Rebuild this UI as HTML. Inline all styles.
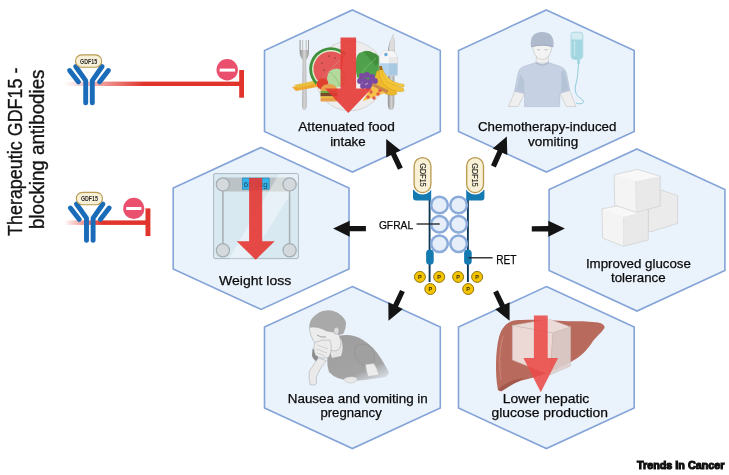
<!DOCTYPE html><html><head><meta charset="utf-8"><style>html,body{margin:0;padding:0;background:#fff;width:729px;height:475px;overflow:hidden}svg{display:block;will-change:transform}text{font-family:"Liberation Sans",sans-serif}</style></head><body>
<svg width="729" height="475" viewBox="0 0 729 475">
<defs><linearGradient id="fadeL" x1="0" x2="1" y1="0" y2="0"><stop offset="0" stop-color="#e0342c" stop-opacity="0"/><stop offset="0.2" stop-color="#e0342c" stop-opacity="0.45"/><stop offset="0.45" stop-color="#e0342c" stop-opacity="1"/><stop offset="1" stop-color="#e0342c" stop-opacity="1"/></linearGradient><linearGradient id="fadeL2" x1="0" x2="1" y1="0" y2="0"><stop offset="0" stop-color="#e0342c" stop-opacity="0"/><stop offset="0.45" stop-color="#e0342c" stop-opacity="1"/><stop offset="1" stop-color="#e0342c" stop-opacity="1"/></linearGradient></defs>
<polygon points="352.4,10.0 440.3,50.5 440.3,131.5 352.4,172.0 264.5,131.5 264.5,50.5" fill="#eaf2fb" stroke="#84a4d8" stroke-width="1.6"/>
<polygon points="546.4,10.0 634.2,50.5 634.2,131.5 546.4,172.0 458.5,131.5 458.5,50.5" fill="#eaf2fb" stroke="#84a4d8" stroke-width="1.6"/>
<polygon points="261.1,147.4 349.0,187.9 349.0,268.9 261.1,309.4 173.2,268.9 173.2,187.9" fill="#eaf2fb" stroke="#84a4d8" stroke-width="1.6"/>
<polygon points="637.0,149.0 724.9,189.5 724.9,270.5 637.0,311.0 549.1,270.5 549.1,189.5" fill="#eaf2fb" stroke="#84a4d8" stroke-width="1.6"/>
<polygon points="352.4,286.6 440.3,327.1 440.3,408.1 352.4,448.6 264.5,408.1 264.5,327.1" fill="#eaf2fb" stroke="#84a4d8" stroke-width="1.6"/>
<polygon points="546.4,286.6 634.2,327.1 634.2,408.1 546.4,448.6 458.5,408.1 458.5,327.1" fill="#eaf2fb" stroke="#84a4d8" stroke-width="1.6"/>
<polygon points="402.8,167.5 395.8,152.8 400.6,150.5 386.2,139.0 386.2,157.4 391.0,155.1 398.0,169.7" fill="#141414"/>
<polygon points="495.8,167.4 502.4,152.8 507.3,155.0 506.8,136.6 492.7,148.4 497.6,150.6 491.0,165.2" fill="#141414"/>
<polygon points="365.9,226.1 349.7,226.0 349.7,220.7 333.1,228.6 349.7,236.7 349.7,231.3 365.9,231.3" fill="#141414"/>
<polygon points="531.8,231.4 548.3,231.4 548.3,236.7 564.9,228.6 548.3,220.7 548.3,226.1 531.8,226.2" fill="#141414"/>
<polygon points="400.1,289.9 393.2,304.5 388.3,302.3 388.5,320.7 402.8,309.1 398.0,306.8 404.8,292.1" fill="#141414"/>
<polygon points="493.2,292.5 500.0,306.9 495.2,309.2 509.6,320.7 509.6,302.3 504.8,304.6 497.9,290.2" fill="#141414"/>
<g id="receptor">
<line x1="429.6" y1="197" x2="429.6" y2="282" stroke="#0d3858" stroke-width="1.9"/>
<line x1="467.9" y1="197" x2="467.9" y2="282" stroke="#0d3858" stroke-width="1.9"/>
<path d="M413.0,189.8 H431.2 V200.6 H416 Q413,200.6 413,197.6 Z" fill="#1579b2"/>
<path d="M466.2,189.8 H484.4 V197.6 Q484.4,200.6 481.4,200.6 H466.2 Z" fill="#1579b2"/>
<rect x="414.1" y="157.6" width="16.8" height="35" rx="8.4" fill="#fff" stroke="#fff" stroke-width="4"/>
<rect x="466.7" y="157.6" width="16.8" height="35" rx="8.4" fill="#fff" stroke="#fff" stroke-width="4"/>
<rect x="414.1" y="157.6" width="16.8" height="35" rx="8.4" fill="#f8f1d6" stroke="#b8984c" stroke-width="1.3"/>
<rect x="466.7" y="157.6" width="16.8" height="35" rx="8.4" fill="#f8f1d6" stroke="#b8984c" stroke-width="1.3"/>
<text transform="translate(419.6,175) rotate(90)" font-size="8.4" text-anchor="middle" fill="#222" stroke="#222" stroke-width="0.1" textLength="23.5" lengthAdjust="spacingAndGlyphs">GDF15</text>
<text transform="translate(472.4,175) rotate(90)" font-size="8.4" text-anchor="middle" fill="#222" stroke="#222" stroke-width="0.1" textLength="23.5" lengthAdjust="spacingAndGlyphs">GDF15</text>
<circle cx="439.5" cy="205.0" r="8.3" fill="#e5eef9" stroke="#8aabd9" stroke-width="2.5"/>
<circle cx="439.5" cy="224.2" r="8.3" fill="#e5eef9" stroke="#8aabd9" stroke-width="2.5"/>
<circle cx="439.5" cy="243.8" r="8.3" fill="#e5eef9" stroke="#8aabd9" stroke-width="2.5"/>
<circle cx="458.6" cy="205.0" r="8.3" fill="#e5eef9" stroke="#8aabd9" stroke-width="2.5"/>
<circle cx="458.6" cy="224.2" r="8.3" fill="#e5eef9" stroke="#8aabd9" stroke-width="2.5"/>
<circle cx="458.6" cy="243.8" r="8.3" fill="#e5eef9" stroke="#8aabd9" stroke-width="2.5"/>
<rect x="426.1" y="249.5" width="7.6" height="15.2" rx="3.8" fill="#1579b2"/>
<rect x="464.1" y="249.5" width="7.6" height="15.2" rx="3.8" fill="#1579b2"/>
<line x1="416.6" y1="224" x2="439.7" y2="224" stroke="#1a1a1a" stroke-width="1.3"/>
<line x1="468.6" y1="257.8" x2="492.6" y2="257.8" stroke="#1a1a1a" stroke-width="1.3"/>
<circle cx="419.9" cy="276.9" r="5.5" fill="#f3c400" stroke="#8a6a00" stroke-width="0.9"/>
<text x="419.9" y="278.9" font-size="5.5" font-weight="bold" text-anchor="middle" fill="#3a2a00">P</text>
<circle cx="439.2" cy="276.9" r="5.5" fill="#f3c400" stroke="#8a6a00" stroke-width="0.9"/>
<text x="439.2" y="278.9" font-size="5.5" font-weight="bold" text-anchor="middle" fill="#3a2a00">P</text>
<circle cx="430.3" cy="289.0" r="5.5" fill="#f3c400" stroke="#8a6a00" stroke-width="0.9"/>
<text x="430.3" y="291.0" font-size="5.5" font-weight="bold" text-anchor="middle" fill="#3a2a00">P</text>
<circle cx="458.1" cy="276.9" r="5.5" fill="#f3c400" stroke="#8a6a00" stroke-width="0.9"/>
<text x="458.1" y="278.9" font-size="5.5" font-weight="bold" text-anchor="middle" fill="#3a2a00">P</text>
<circle cx="477.1" cy="276.9" r="5.5" fill="#f3c400" stroke="#8a6a00" stroke-width="0.9"/>
<text x="477.1" y="278.9" font-size="5.5" font-weight="bold" text-anchor="middle" fill="#3a2a00">P</text>
<circle cx="468.2" cy="289.0" r="5.5" fill="#f3c400" stroke="#8a6a00" stroke-width="0.9"/>
<text x="468.2" y="291.0" font-size="5.5" font-weight="bold" text-anchor="middle" fill="#3a2a00">P</text>
</g>
<rect x="64" y="81.6" width="178" height="4.4" fill="url(#fadeL)"/>
<g transform="translate(74.9,54.3)"><path d="M0.8,12.2 L10.8,26.3 L10.8,48.6" fill="none" stroke="#1b6cb8" stroke-width="4.9" stroke-linecap="round" stroke-linejoin="round"/><path d="M27.2,12.2 L17.4,26.3 L17.4,48.6" fill="none" stroke="#1b6cb8" stroke-width="4.9" stroke-linecap="round" stroke-linejoin="round"/><path d="M-5.3,16.2 L3.6,27.6" fill="none" stroke="#1b6cb8" stroke-width="4.9" stroke-linecap="round"/><path d="M33.5,16.2 L24.6,27.6" fill="none" stroke="#1b6cb8" stroke-width="4.9" stroke-linecap="round"/><rect x="0.6" y="0.6" width="26.2" height="12.4" rx="6.2" fill="#f7f0d6" stroke="#b89a50" stroke-width="1.1"/><text x="13.7" y="9.4" font-size="6.6" font-weight="bold" text-anchor="middle" fill="#2a2a2a" textLength="17" lengthAdjust="spacingAndGlyphs">GDF15</text></g>
<rect x="118" y="81.6" width="124" height="4.4" fill="#e0342c" opacity="0"/>
<rect x="239.2" y="70" width="4.8" height="27.7" fill="#e0342c"/>
<circle cx="227.2" cy="69.8" r="10.7" fill="#ea4f6d"/>
<rect x="219.6" y="68.6" width="15.5" height="3" fill="#fff"/>
<rect x="64" y="220.4" width="84" height="4.5" fill="url(#fadeL2)"/>
<g transform="translate(75.7,191.8)"><path d="M0.8,12.2 L10.8,26.3 L10.8,48.6" fill="none" stroke="#1b6cb8" stroke-width="4.9" stroke-linecap="round" stroke-linejoin="round"/><path d="M27.2,12.2 L17.4,26.3 L17.4,48.6" fill="none" stroke="#1b6cb8" stroke-width="4.9" stroke-linecap="round" stroke-linejoin="round"/><path d="M-5.3,16.2 L3.6,27.6" fill="none" stroke="#1b6cb8" stroke-width="4.9" stroke-linecap="round"/><path d="M33.5,16.2 L24.6,27.6" fill="none" stroke="#1b6cb8" stroke-width="4.9" stroke-linecap="round"/><rect x="0.6" y="0.6" width="26.2" height="12.4" rx="6.2" fill="#f7f0d6" stroke="#b89a50" stroke-width="1.1"/><text x="13.7" y="9.4" font-size="6.6" font-weight="bold" text-anchor="middle" fill="#2a2a2a" textLength="17" lengthAdjust="spacingAndGlyphs">GDF15</text></g>
<rect x="145.5" y="208.4" width="4.9" height="27.7" fill="#e0342c"/>
<circle cx="133.8" cy="208.4" r="10.6" fill="#ea4f6d"/>
<rect x="126.2" y="207" width="15.2" height="3" fill="#fff"/>
<g id="food">
<defs><linearGradient id="steel" x1="0" x2="1" y1="0" y2="0"><stop offset="0" stop-color="#8e8e8e"/><stop offset="0.5" stop-color="#d4d4d4"/><stop offset="1" stop-color="#9a9a9a"/></linearGradient></defs>
<circle cx="350" cy="75.8" r="35" fill="#ededed" stroke="#d6d6d6" stroke-width="1"/>
<path d="M299.6,40 L299.6,51 Q299.8,57 302.6,60 L302,104 Q302,110 304.3,110 Q306.8,110 306.8,104 L306.2,60 Q309,57 309,51 L309,40 L308,40 L308,50 L306.6,50 L306.6,40 L305.6,40 L305.6,50 L303.2,50 L303.2,40 L302.2,40 L302.2,50 L300.6,50 L300.6,40 Z" fill="url(#steel)"/>
<path d="M393.5,33.5 Q395.5,42 394.6,52 L394.3,104 Q394,110 391,110 Q388,110 387.8,104 L387.8,52 Q388.5,42 393.5,33.5 Z" fill="url(#steel)"/>
<path d="M393.5,33.5 Q395.5,42 394.6,50 L389,50 Q389.5,42 393.5,33.5 Z" fill="#dcdcdc"/>
<path d="M292,87 L320,82 L322,86 L296,91 Z" fill="#f0a830"/>
<path d="M294,85 L318,80 L319,83 L298,88 Z" fill="#e8c040"/>
<path d="M315.6,84.4 A21.5,21.5 0 0 1 346.4,53.6 Z" fill="#3f8f3c"/>
<path d="M317.6,82.4 A18.7,18.7 0 0 1 344.4,55.6 Z" fill="#d9eec9"/>
<path d="M318.6,81.4 A17.3,17.3 0 0 1 343.4,56.6 Z" fill="#e4585a"/>
<circle cx="329.0" cy="56.0" r="0.6" fill="#3a1a1a"/>
<circle cx="335.0" cy="58.0" r="0.6" fill="#3a1a1a"/>
<circle cx="322.0" cy="63.0" r="0.6" fill="#3a1a1a"/>
<circle cx="324.0" cy="70.0" r="0.6" fill="#3a1a1a"/>
<circle cx="330.0" cy="75.0" r="0.6" fill="#3a1a1a"/>
<path d="M318.6,81.4 L343.4,56.6 L342,72 L332,84 Z" fill="#e4585a"/>
<circle cx="336.5" cy="78" r="9.5" fill="#b4d99c"/>
<path d="M330,72 Q336,76 340,86" stroke="#8cc070" stroke-width="0.8" fill="none"/>
<path d="M356,62 Q356,53 362,52 Q368,49 373,53 Q379,54 380,60 Q382,66 379,72 Q376,79 368,81 Q360,82 357,77 Q355,70 356,62 Z" fill="#4fa14b"/>
<path d="M364,52 Q372,50 378,56 Q381,62 376,66 Q370,60 364,52 Z" fill="#3e8a3a" opacity="0.8"/>
<path d="M358,78 Q364,68 376,58" stroke="#8cc47e" stroke-width="0.6" fill="none"/>
<path d="M379.2,57 L383,50.7 L393.8,50.7 L397.5,57 L397.5,75.3 L379.2,75.3 Z" fill="#f5f5f5" stroke="#d6d6d6" stroke-width="0.5"/>
<rect x="379.2" y="63.3" width="18.3" height="12" fill="#b3d3ee"/>
<path d="M389,57 L397.5,57 L397.5,75.3 L389,75.3 Z" fill="#000" opacity="0.05"/>
<circle cx="385.9" cy="54.5" r="1.7" fill="#6aa8da"/>
<path d="M380,68 Q377,80 388,88 Q396,93 404,91 L403,88 Q392,86 386,78 Q382,72 382,68 Z" fill="#f3c332" stroke="#d5a11e" stroke-width="0.5"/>
<path d="M377,71 Q372,84 382,92 Q390,97 397,94 L396,91 Q386,89 381,80 Q379,75 379,71 Z" fill="#eeb92a" stroke="#d5a11e" stroke-width="0.5"/>
<path d="M382,68 Q386,78 394,82 Q400,84 404,84.5 L404,87 Q394,86 388,82 Q382,76 381,68 Z" fill="#f6ca3c" stroke="#d5a11e" stroke-width="0.5"/>
<path d="M379,66 L382,66 L382.5,70 L379.5,70 Z" fill="#9a7020"/>
<circle cx="362.0" cy="76.0" r="2.9" fill="#7a4aa2"/>
<circle cx="367.0" cy="75.0" r="2.9" fill="#7a4aa2"/>
<circle cx="372.0" cy="77.0" r="2.9" fill="#7a4aa2"/>
<circle cx="360.0" cy="81.0" r="2.9" fill="#7a4aa2"/>
<circle cx="365.0" cy="81.0" r="2.9" fill="#7a4aa2"/>
<circle cx="370.0" cy="82.0" r="2.9" fill="#7a4aa2"/>
<circle cx="375.0" cy="81.0" r="2.9" fill="#7a4aa2"/>
<circle cx="363.0" cy="86.0" r="2.9" fill="#7a4aa2"/>
<circle cx="368.0" cy="87.0" r="2.9" fill="#7a4aa2"/>
<circle cx="372.0" cy="86.0" r="2.9" fill="#7a4aa2"/>
<path d="M362.7,101.3 L373,84.5 L387.5,92 Z" fill="#f6c24a"/>
<path d="M372.9,82.9 L388.7,90.5 L387,93.5 L371.5,85.5 Z" fill="#c9884a"/>
<circle cx="371.0" cy="92.0" r="1.7" fill="#e0584a"/>
<circle cx="378.0" cy="94.0" r="1.7" fill="#e0584a"/>
<circle cx="368.0" cy="97.0" r="1.7" fill="#e0584a"/>
<circle cx="374.0" cy="98.0" r="1.7" fill="#e0584a"/>
<circle cx="380.0" cy="90.5" r="1.7" fill="#e0584a"/>
<circle cx="322.5" cy="84" r="5.8" fill="#e0402e"/>
<path d="M320.5,91 Q321,84 329,84 Q337,84 337.5,91 Z" fill="#e9a04c"/>
<rect x="320.5" y="91" width="17" height="2" fill="#6ab040"/>
<rect x="320.5" y="93" width="17" height="3.5" fill="#7a4a2a"/>
<rect x="320.5" y="96.5" width="17" height="1.5" fill="#f0c030"/>
<rect x="320.5" y="98" width="17" height="3.5" rx="1.2" fill="#e9a04c"/>
<polygon points="340.5,37.4 356.1,37.4 356.1,88.6 371.6,88.6 348.3,113.0 325.0,88.6 340.5,88.6" fill="#e53935" fill-opacity="0.90"/>
</g>
<g id="chemo">
<path d="M515,91 L508.5,106.5 L518,106.5 L525,93 Z" fill="#efefef" stroke="#b8b8b8" stroke-width="0.5"/>
<path d="M569.5,90 L576,106.5 L566.5,106.5 L559.5,93 Z" fill="#efefef" stroke="#b8b8b8" stroke-width="0.5"/>
<path d="M536.5,55 L548,55 L548.5,63 L536,63 Z" fill="#f0f0f0" stroke="#b8b8b8" stroke-width="0.5"/>
<path d="M536,62.5 Q542,66 548.5,62.5 L560,66.5 Q566,68 567,76 L569.8,90.5 L559.8,93.5 L559.6,106.6 L524.6,106.6 L524.6,93.5 L514.6,91.2 L517.5,76 Q518.5,68 524,66.5 Z" fill="#c6d2e3" stroke="#aebbd0" stroke-width="0.6"/>
<path d="M520,74 Q518,84 516,90 L524.6,93 L524,80 Z" fill="#aebcd2" opacity="0.6"/>
<path d="M564,70 Q567,80 569,90 L561,92 Q562,80 561,72 Z" fill="#aebcd2" opacity="0.7"/>
<path d="M536,62.5 Q542,68 548.5,62.5" stroke="#aab8ce" stroke-width="1.2" fill="none"/>
<path d="M532.8,43 C532,53 537,59.5 542.3,59.5 C547.6,59.5 552.4,53 551.8,43 Z" fill="#f3f3f3" stroke="#b4b4b4" stroke-width="0.5"/>
<path d="M537,49.5 Q538.5,50.5 540,49.5 M544.5,49.5 Q546,50.5 547.5,49.5" stroke="#8a8a8a" stroke-width="0.5" fill="none"/>
<path d="M531,47 C529.5,37 534,32 542.2,32 C550.4,32 554.8,37 553.4,47 Q542.2,43.8 531,47 Z" fill="#afbbcd"/>
<path d="M531.2,46.8 Q542.2,43.6 553.2,46.8" stroke="#9ba8bc" stroke-width="0.8" fill="none"/>
<path d="M571,35 Q571,32.2 574,32.2 L579.8,32.2 Q582.8,32.2 582.8,35 L582.8,56 Q582.8,59 579,59.5 L574.6,59.5 Q571,59 571,56 Z" fill="#d5edf2" stroke="#8cc7d4" stroke-width="0.6"/>
<path d="M571.5,39.5 L582.3,39.5 L582.3,56 Q582.3,58.8 579,59 L574.6,59 Q571.5,58.8 571.5,56 Z" fill="#a2d6e1"/>
<rect x="574" y="41" width="1.2" height="15" fill="#c8e8ef"/>
<rect x="577.2" y="59" width="2.6" height="5" fill="#9fd4df"/>
<path d="M578.5,64 Q578,78 575.5,86 Q574,94 580,98 Q586,101.5 582,103.5 Q579,104.5 576,103" stroke="#7cc4d3" stroke-width="0.8" fill="none"/>
</g>
<g id="scale">
<rect x="213.6" y="173.6" width="84.8" height="85" rx="1.5" fill="#d9e9f2" stroke="#a9b8be" stroke-width="1"/>
<rect x="216" y="177.5" width="80" height="14" rx="7" fill="#bcc3c6"/>
<path d="M279,174 L298,174 L298,182 L250,258.5 L229,258.5 Z" fill="#ffffff" opacity="0.38"/>
<line x1="222.9" y1="190" x2="222.9" y2="244" stroke="#a9b1b5" stroke-width="1.6"/>
<line x1="289.6" y1="190" x2="289.6" y2="244" stroke="#a9b1b5" stroke-width="1.6"/>
<circle cx="222.9" cy="184.4" r="6.6" fill="#d3d9dc" stroke="#a5adb1" stroke-width="1.2"/>
<circle cx="289.6" cy="184.4" r="6.6" fill="#d3d9dc" stroke="#a5adb1" stroke-width="1.2"/>
<circle cx="222.9" cy="250.3" r="6.6" fill="#d3d9dc" stroke="#a5adb1" stroke-width="1.2"/>
<circle cx="289.6" cy="250.3" r="6.6" fill="#d3d9dc" stroke="#a5adb1" stroke-width="1.2"/>
<rect x="242.5" y="178" width="26.7" height="11.2" fill="#35b3ea" stroke="#1a7aa8" stroke-width="0.6"/>
<text x="255.8" y="187" font-size="8" text-anchor="middle" fill="#1a4a66">65.0kg</text>
<polygon points="249.1,178.0 262.2,178.0 262.2,241.2 274.7,241.2 255.7,259.7 236.7,241.2 249.1,241.2" fill="#e53935" fill-opacity="0.92"/>
</g>
<g id="cubes">
<polygon points="648.3,192.0 661.1,190.1 677.6,195.6 677.6,223.4 651.0,231.6 648.3,231.0" fill="#ebebeb" stroke="#cfcfcf" stroke-width="0.7"/>
<polygon points="602.0,208.8 617.2,206.0 648.3,209.7 623.6,217.0" fill="#f8f8f8" />
<polygon points="602.0,208.8 623.6,217.0 623.6,246.3 602.6,238.0" fill="#f4f4f4" />
<polygon points="623.6,217.0 648.3,209.7 648.3,239.9 623.6,246.3" fill="#e9e9e9" />
<polygon points="602.0,208.8 617.2,206.0 648.3,209.7 648.3,239.9 623.6,246.3 602.6,238.0" fill="none" stroke="#cfcfcf" stroke-width="0.7" stroke-linejoin="round"/>
<polygon points="614.1,174.9 637.3,169.4 660.2,176.2 635.5,181.3" fill="#f8f8f8" />
<polygon points="614.1,174.9 635.5,181.3 636.4,212.4 614.8,205.1" fill="#f4f4f4" />
<polygon points="635.5,181.3 660.2,176.2 660.2,206.0 636.4,212.4" fill="#e9e9e9" />
<polygon points="614.1,174.9 637.3,169.4 660.2,176.2 660.2,206.0 636.4,212.4 614.8,205.1" fill="none" stroke="#cfcfcf" stroke-width="0.7" stroke-linejoin="round"/>
<line x1="635.5" y1="181.3" x2="636.4" y2="212.4" stroke="#dcdcdc" stroke-width="0.6"/>
<line x1="623.6" y1="217" x2="623.6" y2="246.3" stroke="#dcdcdc" stroke-width="0.6"/>
</g>
<g id="nausea">
<defs><linearGradient id="bodyfade" x1="0.3" y1="0" x2="0.9" y2="1"><stop offset="0" stop-color="#9e9e9e"/><stop offset="0.7" stop-color="#a4a4a4"/><stop offset="1" stop-color="#c9ced6" stop-opacity="0.5"/></linearGradient></defs>
<path d="M338,336 Q352,333 363,340 Q374,347 380,357 Q386,366 389,373 L386,377 Q368,380 352,381 Q336,380 329,372 Q325,360 330,348 Q333,340 338,336 Z" fill="url(#bodyfade)"/>
<path d="M356,346 Q364,342 371,347 Q376,354 374,362 Q370,366 362,365 Q355,360 354.5,352 Z" fill="#a0a0a0" stroke="#8c8c8c" stroke-width="0.5"/>
<path d="M365.5,364.5 L374,363.5 Q377,368 379,375 L368,376.5 Q366,370 365.5,364.5 Z" fill="#ececec" stroke="#b0b0b0" stroke-width="0.4"/>
<path d="M343.5,379 Q350,375 357,378 Q358,382 352,383 Q346,383.5 343.5,379 Z" fill="#e8e8e8" stroke="#b0b0b0" stroke-width="0.4"/>
<path d="M330,336 Q338,334 341.5,340 Q344,348 341,356 L332,358 Q328,348 330,336 Z" fill="#e4e4e4"/>
<path d="M312.5,349 Q316,348 318,354 L318,362 Q314,361 312,356 Z" fill="#8c8c8c"/>
<path d="M309.3,327.4 Q309.5,320 313.8,316.6 Q319,311 326.3,310.4 Q335,310 340.6,314.9 Q346,319 346,323.8 Q346,329 343.3,333.7 L336,336 Q330,332 326.3,331 Q318,328 309.3,327.4 Z" fill="#a9a9a9"/>
<path d="M309.3,327.4 Q318,326 326.3,331 Q333,332.5 337,332 Q340,336 341,342 Q341,350 335,351 Q325,350 318,346 Q312,341 311,335.5 Q309.5,331 309.3,327.4 Z" fill="#ececec" stroke="#9f9f9f" stroke-width="0.5"/>
<ellipse cx="336.4" cy="330.8" rx="2.6" ry="3.6" fill="#dcdcdc" stroke="#9a9a9a" stroke-width="0.5"/>
<path d="M317,335 Q321,338 326,337" stroke="#6f6f6f" stroke-width="0.6" fill="none"/>
<path d="M318.2,357.9 L326.3,360.6 Q320,368 316.4,376.7 L316.4,383.9 Q313,386 310.2,384.7 Q308.5,378 309.3,371.3 Z" fill="#eaeaea" stroke="#a0a0a0" stroke-width="0.5"/>
<path d="M314.6,342.6 Q322,339 329.9,340 Q333,348 329,357 Q322,360 315.5,355.2 Q312.5,349 314.6,342.6 Z" fill="#ececec" stroke="#a0a0a0" stroke-width="0.5"/>
<path d="M317,345 L328,349 M316,349 L327,353 M317,353 L325,356" stroke="#b2b2b2" stroke-width="0.5" fill="none"/>
</g>
<g id="liver">
<path d="M497.9,389.5 C495,375 495.5,350 499,337 C501,329 506,322 514,320.4 C530,319 550,320 568,321.3 C580,321 594,321.5 600,323 C604,324.5 605.5,327 604.1,328.5 C602,332 597,336 593,341 C588,349 582,356 571.2,361.7 C558,369 545,375 525.7,379.4 C514,382 506,388 502,391 C500,391.5 498.5,391 497.9,389.5 Z" fill="#b86a5d"/>
<path d="M503,336 C499,350 499,366 501,380" stroke="#cf8a7c" stroke-width="1.3" fill="none" opacity="0.7"/>
<path d="M497.9,389.5 C505,383 514,379 525,378 C514,383 507,388 502,391 Z" fill="#8e4a40" opacity="0.55"/>
<g stroke="#cbbcb8" stroke-width="0.5">
<polygon points="512.4,325.5 549,319 570.6,327 553,333" fill="#f1e8e6" opacity="0.9"/>
<polygon points="512.4,325.5 553,333 550,375 512.4,360" fill="#f2e6e4" opacity="0.9"/>
<polygon points="553,333 570.6,327 570.6,366 550,375" fill="#ddd0ce" opacity="0.9"/>
</g>
<polygon points="533.9,315.4 547.7,315.4 547.7,358.1 558.1,358.1 540.8,392.2 523.4,358.1 533.9,358.1" fill="#ea4a48" fill-opacity="0.88"/>
</g>
<text x="346.5" y="130.9" font-size="13.30" text-anchor="middle" fill="#0a0a0a" stroke="#0a0a0a" stroke-width="0.25" textLength="96.5" lengthAdjust="spacingAndGlyphs">Attenuated food</text>
<text x="347.9" y="145.5" font-size="13.30" text-anchor="middle" fill="#0a0a0a" stroke="#0a0a0a" stroke-width="0.25" textLength="35.5" lengthAdjust="spacingAndGlyphs">intake</text>
<text x="547.2" y="131.3" font-size="13.30" text-anchor="middle" fill="#0a0a0a" stroke="#0a0a0a" stroke-width="0.25" textLength="138.5" lengthAdjust="spacingAndGlyphs">Chemotherapy-induced</text>
<text x="553.1" y="146.3" font-size="13.30" text-anchor="middle" fill="#0a0a0a" stroke="#0a0a0a" stroke-width="0.25" textLength="50.3" lengthAdjust="spacingAndGlyphs">vomiting</text>
<text x="255.2" y="285.0" font-size="13.30" text-anchor="middle" fill="#0a0a0a" stroke="#0a0a0a" stroke-width="0.25" textLength="72.2" lengthAdjust="spacingAndGlyphs">Weight loss</text>
<text x="638.4" y="267.7" font-size="13.30" text-anchor="middle" fill="#0a0a0a" stroke="#0a0a0a" stroke-width="0.25" textLength="105.0" lengthAdjust="spacingAndGlyphs">Improved glucose</text>
<text x="638.3" y="282.4" font-size="13.30" text-anchor="middle" fill="#0a0a0a" stroke="#0a0a0a" stroke-width="0.25" textLength="54.7" lengthAdjust="spacingAndGlyphs">tolerance</text>
<text x="357.8" y="403.3" font-size="13.30" text-anchor="middle" fill="#0a0a0a" stroke="#0a0a0a" stroke-width="0.25" textLength="140.0" lengthAdjust="spacingAndGlyphs">Nausea and vomiting in</text>
<text x="351.1" y="417.3" font-size="13.30" text-anchor="middle" fill="#0a0a0a" stroke="#0a0a0a" stroke-width="0.25" textLength="61.3" lengthAdjust="spacingAndGlyphs">pregnancy</text>
<text x="546.0" y="403.4" font-size="13.30" text-anchor="middle" fill="#0a0a0a" stroke="#0a0a0a" stroke-width="0.25" textLength="86.7" lengthAdjust="spacingAndGlyphs">Lower hepatic</text>
<text x="549.8" y="417.4" font-size="13.30" text-anchor="middle" fill="#0a0a0a" stroke="#0a0a0a" stroke-width="0.25" textLength="116.5" lengthAdjust="spacingAndGlyphs">glucose production</text>
<text x="396.0" y="228.5" font-size="10.80" text-anchor="middle" fill="#0a0a0a" stroke="#0a0a0a" stroke-width="0.25" textLength="34.2" lengthAdjust="spacingAndGlyphs">GFRAL</text>
<text x="506.4" y="263.6" font-size="12.30" text-anchor="middle" fill="#0a0a0a" stroke="#0a0a0a" stroke-width="0.25" textLength="20.3" lengthAdjust="spacingAndGlyphs">RET</text>
<text transform="translate(22,236) rotate(-90)" font-size="19.4" fill="#141414" stroke="#141414" stroke-width="0.35" textLength="168.5" lengthAdjust="spacingAndGlyphs">Therapeutic GDF15 -</text>
<text transform="translate(43.8,229) rotate(-90)" font-size="19.4" fill="#141414" stroke="#141414" stroke-width="0.35" textLength="159.5" lengthAdjust="spacingAndGlyphs">blocking antibodies</text>
<text x="637" y="469.4" font-size="11.8" font-weight="bold" fill="#111" textLength="87.5" lengthAdjust="spacingAndGlyphs" stroke="#111" stroke-width="1.15">Trends In Cancer</text>
</svg></body></html>
